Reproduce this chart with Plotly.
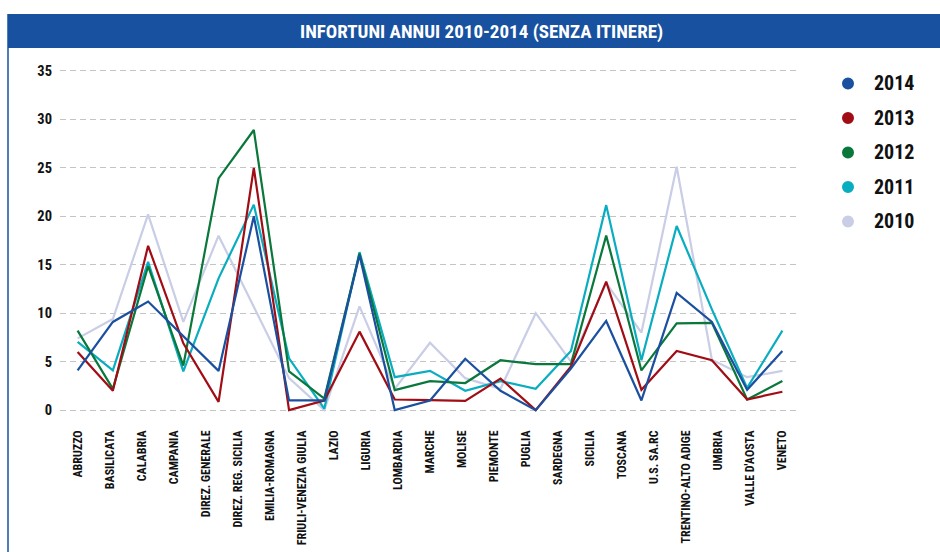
import plotly.graph_objects as go

# Regions shown along the horizontal axis
categories = [
    "ABRUZZO", "BASILICATA", "CALABRIA", "CAMPANIA", "DIREZ. GENERALE",
    "DIREZ. REG. SICILIA", "EMILIA-ROMAGNA", "FRIULI-VENEZIA GIULIA", "LAZIO",
    "LIGURIA", "LOMBARDIA", "MARCHE", "MOLISE", "PIEMONTE", "PUGLIA",
    "SARDEGNA", "SICILIA", "TOSCANA", "U.S. SA.RC", "TRENTINO-ALTO ADIGE",
    "UMBRIA", "VALLE D'AOSTA", "VENETO",
]

# Yearly injury series (plotted points)
v2014 = [4.1, 9.1, 11.2, 7.6, 4.05, 20.0, 1.0, 1.0, 16.0, 0.0, 1.0,
         5.3, 2.0, 0.0, 4.3, 9.2, 1.0, 12.1, 9.1, 2.1, 6.1]
v2013 = [6.0, 2.0, 16.95, 6.9, 0.86, 25.0, 0.0, 1.0, 8.1, 1.1, 1.03,
         0.96, 3.26, 0.0, 4.5, 13.25, 2.1, 6.1, 5.15, 1.1, 1.9]
v2012 = [8.2, 2.2, 14.85, 4.6, 23.9, 28.9, 4.0, 1.2, 16.15, 2.06, 3.0,
         2.8, 5.15, 4.75, 4.75, 18.0, 4.1, 8.95, 9.0, 1.1, 3.0]
v2011 = [7.05, 4.1, 15.3, 4.0, 13.6, 21.2, 5.35, 0.15, 16.3, 3.4, 4.05,
         2.0, 3.0, 2.2, 6.1, 21.15, 5.15, 19.0, 10.4, 2.3, 8.2]
v2010 = [7.4, 9.4, 20.2, 9.1, 18.0, 10.7, 3.3, 0.0, 10.7, 2.2, 6.95,
         3.3, 2.2, 10.0, 5.0, 13.1, 8.0, 25.1, 5.2, 3.4, 4.05]

years = ["2014", "2013", "2012", "2011", "2010"]
series = [v2014, v2013, v2012, v2011, v2010]
colors = ["#1b4f9f", "#a10d14", "#0a773b", "#09adc0", "#c9cde6"]

y_ticks = [0, 5, 10, 15, 20, 25, 30, 35]

TITLE = "INFORTUNI ANNUI 2010-2014 (SENZA ITINERE)"
FONT = "Roboto Condensed, Open Sans Condensed, DejaVu Sans Condensed, sans-serif"
BLUE_BAR = "#1751a0"

W, H = 940, 552
PL, PR, PT, PB = 60, 800, 65.9, 414.85


def px_x(p):
    return (p - PL) / (PR - PL)


def px_y(p):
    return (PB - p) / (PB - PT)


fig = go.Figure()

n = len(v2014)
xs = list(range(n))
# oldest year first so the most recent line sits on top
for name, vals, col in reversed(list(zip(years, series, colors))):
    fig.add_trace(go.Scatter(
        x=xs, y=vals, mode="lines", name=name,
        line=dict(color=col, width=2.2), showlegend=False,
    ))

# category labels spread evenly across the plotted span
nc = len(categories)
tick_pos = [i * (n - 1) / (nc - 1) for i in range(nc)]

shapes = [
    dict(type="rect", xref="paper", yref="paper",
         x0=px_x(8), x1=px_x(W), y0=px_y(48), y1=px_y(14),
         fillcolor=BLUE_BAR, line=dict(width=0), layer="below"),
    dict(type="line", xref="paper", yref="paper",
         x0=px_x(8), x1=px_x(8), y0=px_y(14), y1=px_y(W),
         line=dict(color=BLUE_BAR, width=1.5)),
]

annotations = [
    dict(text=TITLE, xref="paper", yref="paper", x=px_x(481), y=px_y(31),
         xanchor="center", yanchor="middle", showarrow=False,
         font=dict(family=FONT, size=19, color="white", weight="bold")),
]

# legend: coloured dots with year labels
leg_y0, leg_dy = 83.3, 34.5
for i, (name, col) in enumerate(zip(years, colors)):
    cy = leg_y0 + i * leg_dy
    shapes.append(dict(type="circle", xref="paper", yref="paper",
                       x0=px_x(842), x1=px_x(854), y0=px_y(cy + 6), y1=px_y(cy - 6),
                       fillcolor=col, line=dict(width=0)))
    annotations.append(dict(text=name, xref="paper", yref="paper",
                            x=px_x(872), y=px_y(cy), xanchor="left", yanchor="middle",
                            showarrow=False,
                            font=dict(family=FONT, size=20, color="#111", weight="bold")))

fig.update_layout(
    width=W, height=H,
    margin=dict(l=PL, r=W - PR, t=PT, b=H - PB, autoexpand=False),
    paper_bgcolor="white", plot_bgcolor="white",
    showlegend=False,
    shapes=shapes,
    annotations=annotations,
    xaxis=dict(
        range=[-0.5, n - 0.5], tickmode="array", tickvals=tick_pos,
        ticktext=categories, tickangle=-90, showgrid=False, zeroline=False,
        showline=False, ticks="", ticklabelstandoff=12,
        tickfont=dict(family=FONT, size=12, color="#111", weight="bold"),
    ),
    yaxis=dict(
        range=[-0.5, 35.5], tickmode="array", tickvals=y_ticks,
        showgrid=True, gridcolor="#c4c4c4", gridwidth=1.3, griddash="6px,4px",
        zeroline=False, showline=False, ticks="", ticklabelstandoff=7,
        tickfont=dict(family=FONT, size=14.5, color="#111", weight="bold"),
    ),
)

fig.write_html("out.html")
